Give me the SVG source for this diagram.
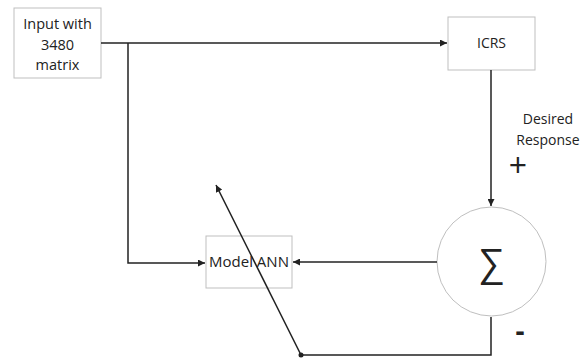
<svg xmlns="http://www.w3.org/2000/svg" width="585" height="358" viewBox="0 0 585 358">
<defs>
<style>
.box{fill:#fff;stroke:#bfbfbf;stroke-width:1}
.t{font-family:"Open Sans","Liberation Sans",sans-serif;fill:#222;text-anchor:middle}
.ln{fill:none;stroke:#222;stroke-width:1.5}
</style>
<marker id="ah" viewBox="0 0 10 10" refX="10" refY="5" markerWidth="7" markerHeight="7" orient="auto" markerUnits="userSpaceOnUse">
<path d="M0,0 L10,5 L0,10 z" fill="#222"/>
</marker>
</defs>
<rect width="585" height="358" fill="#fff"/>
<g id="input">
<rect class="box" x="14" y="8" width="87" height="70"/>
<text class="t" font-size="14.5"><tspan x="57.5" y="29">Input with</tspan><tspan x="57.5" y="50">3480</tspan><tspan x="57.5" y="70">matrix</tspan></text>
</g>
<g id="icrs">
<rect class="box" x="448" y="17" width="87" height="53"/>
<text class="t" x="491.5" y="48" font-size="14">ICRS</text>
</g>
<g id="model">
<rect class="box" x="206" y="236" width="86" height="52"/>
<text class="t" x="249" y="267" font-size="15">Model ANN</text>
</g>
<g id="sum">
<circle cx="491.5" cy="261.5" r="54.5" fill="#fff" stroke="#bfbfbf" stroke-width="1"/>
<text class="t" x="491.5" y="276" font-size="38">∑</text>
</g>
<g id="labels">
<text class="t" font-size="14"><tspan x="548" y="124">Desired</tspan><tspan x="548" y="145">Response</tspan></text>
<text class="t" x="518" y="177" font-size="32">+</text>
<text class="t" x="520" y="341" font-size="28" font-weight="bold">-</text>
</g>
<g id="connectors">
<path class="ln" d="M101,43 H447" marker-end="url(#ah)"/>
<path class="ln" d="M128,43 V263 H205" marker-end="url(#ah)"/>
<path class="ln" d="M491,70 V206" marker-end="url(#ah)"/>
<path class="ln" d="M437,262 H293" marker-end="url(#ah)"/>
<path class="ln" d="M491,317 V355 H301"/>
<path class="ln" d="M301,355 L216,185" marker-end="url(#ah)"/>
<circle cx="301" cy="355" r="2.5" fill="#222"/>
</g>
</svg>
